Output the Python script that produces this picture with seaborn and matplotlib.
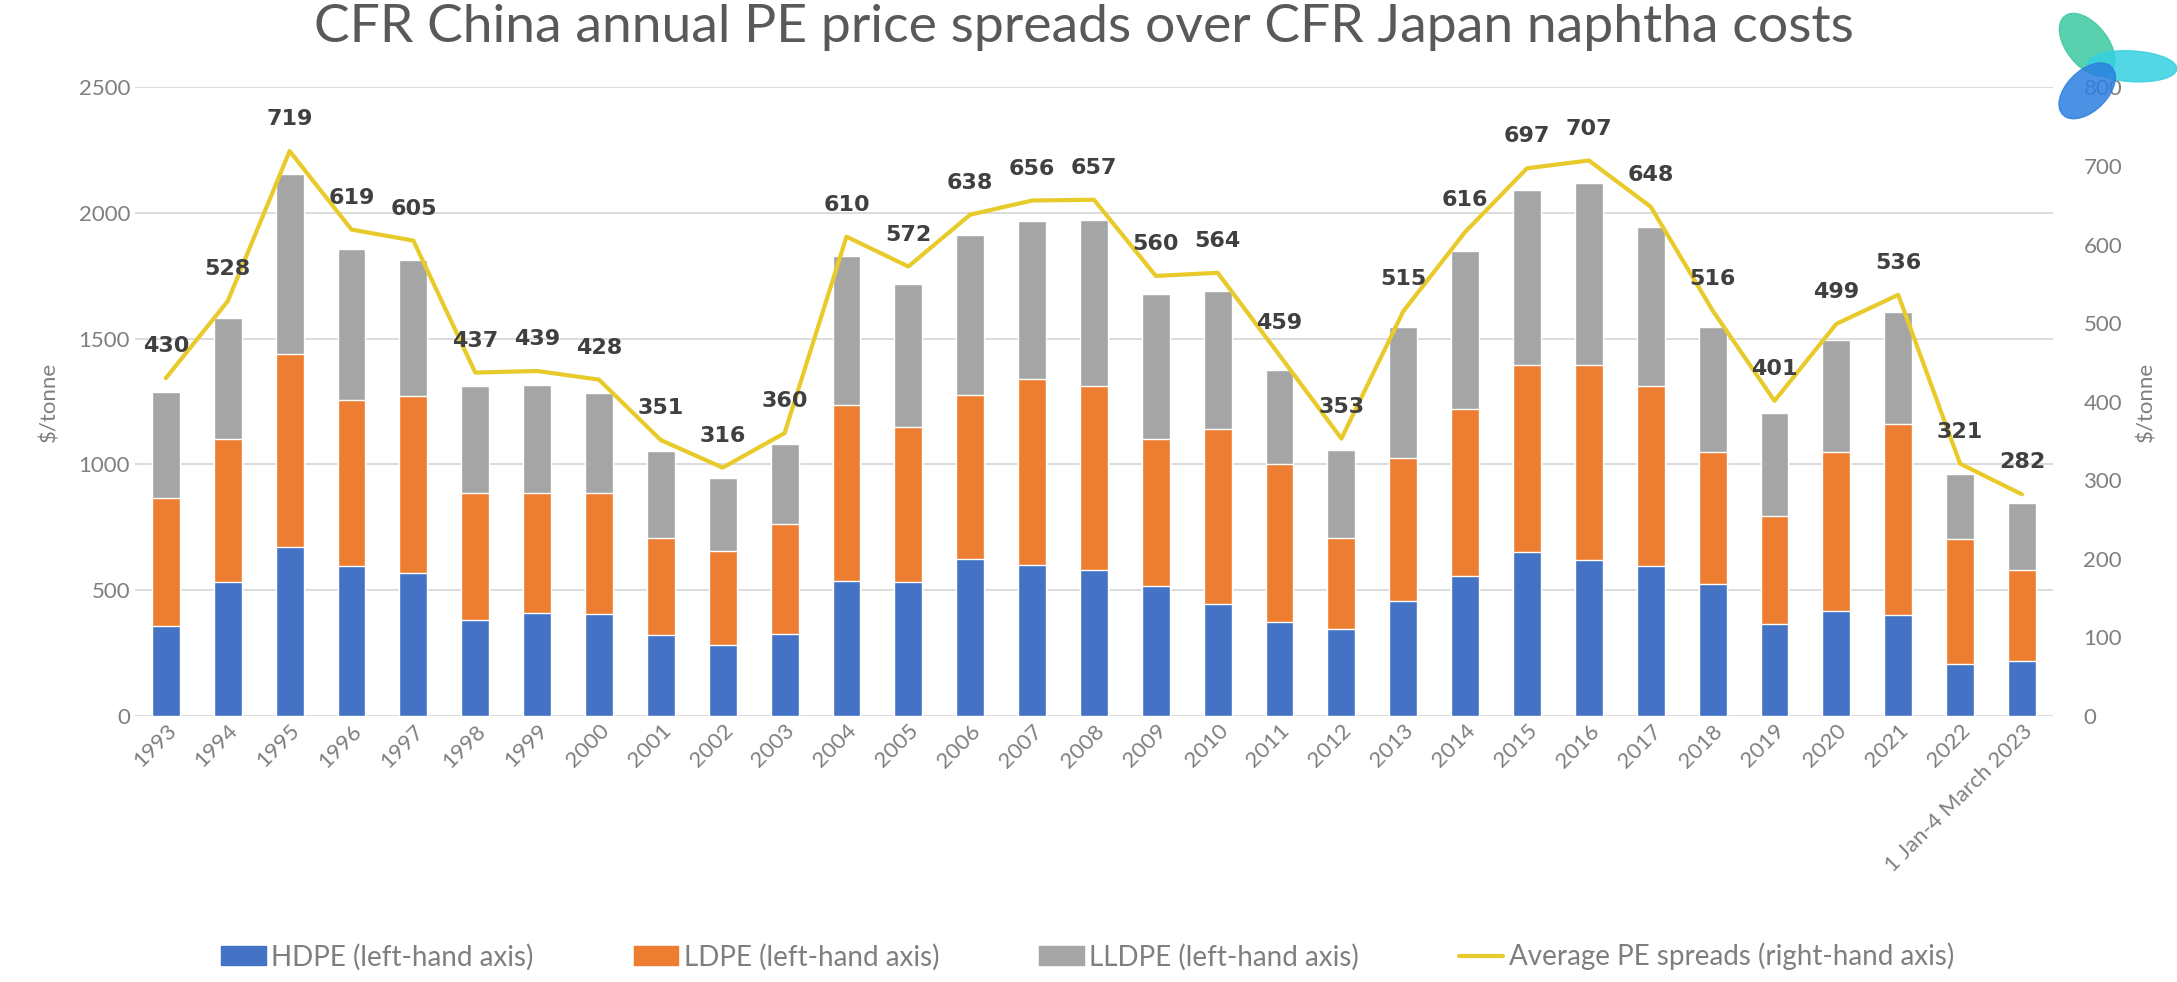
import numpy as np
import pandas as pd
import matplotlib
matplotlib.use("Agg")
import matplotlib.pyplot as plt
from matplotlib.patches import Patch, Ellipse
from matplotlib.lines import Line2D
import seaborn as sns

years = [str(y) for y in range(1993, 2023)] + ["1 Jan-4 March 2023"]
hdpe = [357, 533, 673, 598, 570, 383, 409, 404, 323, 283, 326, 538, 533, 624, 601, 579,
        515, 447, 373, 344, 455, 555, 653, 622, 598, 524, 364, 416, 400, 206, 220]
ldpe = [511, 567, 767, 660, 701, 505, 479, 481, 386, 373, 439, 699, 615, 651, 739, 735,
        588, 695, 627, 365, 571, 665, 742, 775, 716, 524, 433, 635, 760, 498, 359]
lldpe = [422, 484, 717, 599, 544, 423, 429, 399, 344, 292, 315, 593, 568, 639, 628, 657,
         577, 550, 377, 350, 519, 628, 696, 724, 630, 500, 406, 446, 448, 259, 267]
avg_spread = [430, 528, 719, 619, 605, 437, 439, 428, 351, 316, 360, 610, 572, 638, 656, 657,
              560, 564, 459, 353, 515, 616, 697, 707, 648, 516, 401, 499, 536, 321, 282]

C_HDPE = "#4472C4"
C_LDPE = "#ED7D31"
C_LLDPE = "#A5A5A5"
C_LINE = "#E8CB2A"
TXT = "#7F7F7F"

df = pd.DataFrame({"year": years, "hdpe": hdpe, "ldpe": ldpe, "lldpe": lldpe, "avg": avg_spread})
df["top_ldpe"] = df["hdpe"] + df["ldpe"]
df["total"] = df["top_ldpe"] + df["lldpe"]

sns.set_theme(style="white")
plt.rcParams["font.family"] = ["Lato", "DejaVu Sans"]

fig = plt.figure(figsize=(21.77, 9.82), dpi=100)
ax = fig.add_axes([0.062, 0.271, 0.881, 0.640])

# stacked bars: draw totals first, then overlay lower parts
sns.barplot(data=df, x="year", y="total", color=C_LLDPE, width=0.45, saturation=1, ax=ax)
sns.barplot(data=df, x="year", y="top_ldpe", color=C_LDPE, width=0.45, saturation=1, ax=ax)
sns.barplot(data=df, x="year", y="hdpe", color=C_HDPE, width=0.45, saturation=1, ax=ax)

ax.set_ylim(0, 2500)
ax.set_yticks(range(0, 2501, 500))
ax.set_xlim(-0.5, len(years) - 0.5)
ax.yaxis.grid(True, color="#D9D9D9", lw=1.3)
ax.set_axisbelow(True)
for s in ax.spines.values():
    s.set_visible(False)
ax.tick_params(axis="both", length=0, labelsize=16, colors=TXT)
ax.set_xlabel("")
ax.set_ylabel("$/tonne", fontsize=16, color=TXT, labelpad=14)
plt.setp(ax.get_xticklabels(), rotation=45, ha="right", rotation_mode="anchor")

ax2 = ax.twinx()
sns.lineplot(data=df, x="year", y="avg", color=C_LINE, lw=3, sort=False, ax=ax2)
ax2.set_ylim(0, 800)
ax2.set_yticks(range(0, 801, 100))
for s in ax2.spines.values():
    s.set_visible(False)
ax2.tick_params(axis="y", length=0, labelsize=16, colors=TXT, pad=22)
ax2.set_ylabel("$/tonne", fontsize=16, color=TXT, labelpad=10)
ax2.grid(False)

for i, v in enumerate(avg_spread):
    ax2.annotate(str(v), (i, v), xytext=(0, 23), textcoords="offset points",
                 ha="center", va="center", fontsize=16, fontweight="bold",
                 color="#404040", family="DejaVu Sans")

fig.text(0.498, 0.972, "CFR China annual PE price spreads over CFR Japan naphtha costs",
         ha="center", va="center", fontsize=38.5, color="#595959")

handles = [Patch(color=C_HDPE), Patch(color=C_LDPE), Patch(color=C_LLDPE),
           Line2D([0], [0], color=C_LINE, lw=3)]
labels = ["HDPE (left-hand axis)", "LDPE (left-hand axis)", "LLDPE (left-hand axis)",
          "Average PE spreads (right-hand axis)"]
leg = fig.legend(handles, labels, loc="center", bbox_to_anchor=(0.4996, 0.026), ncol=4,
                 frameon=False, fontsize=20, columnspacing=3.6, handlelength=1.6,
                 handletextpad=0.2)
for t in leg.get_texts():
    t.set_color(TXT)

# logo in the top right corner
lax = fig.add_axes([0.925, 0.87, 0.075, 0.125])
lax.set_xlim(-1, 1)
lax.set_ylim(-1, 1)
lax.axis("off")
lax.add_patch(Ellipse((-0.1, 0.35), 0.55, 1.1, angle=25, color="#3CC8A0", alpha=0.85))
lax.add_patch(Ellipse((0.45, 0.0), 1.1, 0.5, angle=-5, color="#35D0E0", alpha=0.85))
lax.add_patch(Ellipse((-0.1, -0.4), 0.55, 1.0, angle=-30, color="#2D7FE0", alpha=0.85))

fig.savefig("out.png", dpi=100)
